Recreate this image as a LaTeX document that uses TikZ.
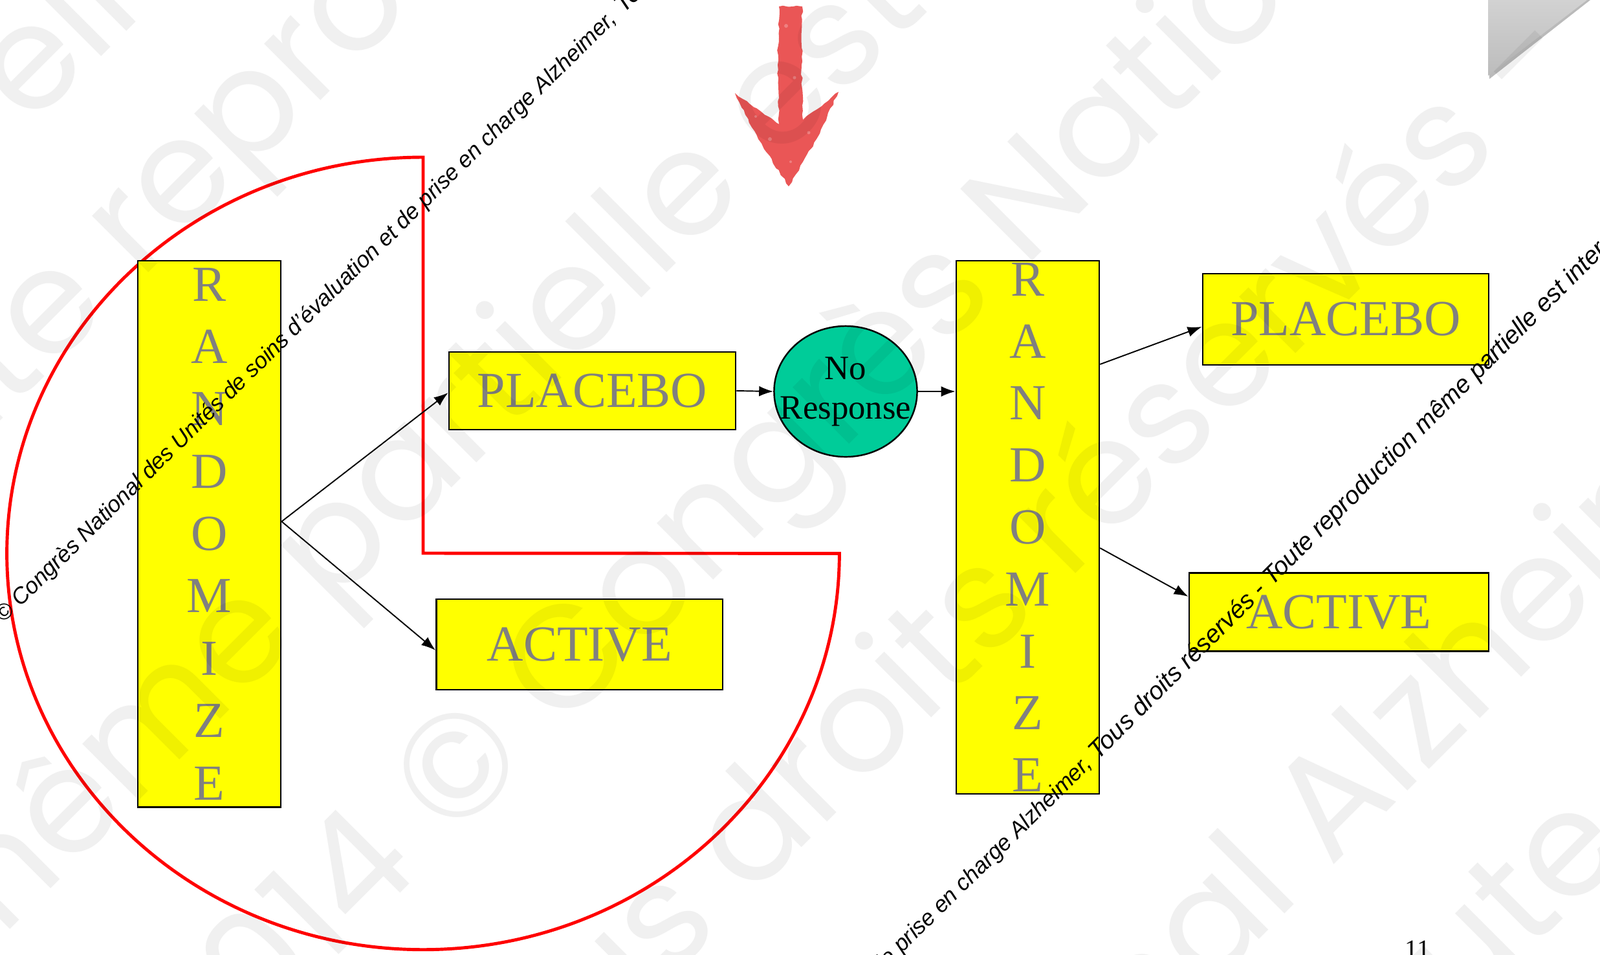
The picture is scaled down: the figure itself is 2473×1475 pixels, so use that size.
\documentclass[tikz,border=0pt]{standalone}
\usepackage{fontspec}
\setmainfont{Liberation Serif}
\newfontfamily\wmsans{Liberation Sans}
\newfontfamily\bigwmfam{Poppins}
\usetikzlibrary{arrows.meta,calc,shapes.geometric,decorations.pathmorphing}

\definecolor{boxyellow}{RGB}{255,255,0}
\definecolor{nrgreen}{RGB}{0,204,153}
\definecolor{chalkred}{RGB}{234,86,86}
\definecolor{shapered}{RGB}{255,0,0}
\definecolor{lettergray}{RGB}{128,128,128}

\newcommand\bigwmfont{\bigwmfam\fontsize{64}{64}\selectfont}
% #1 name, #2 point, #3 text before the point, #4 text from the point on
\newcommand\bigmark[4]{%
  \node[bigwm, anchor=base east] (#1a) at #2 {#3\kern0.27em};
  \node[bigwm, anchor=base west] (#1b) at #2 {#4};}

\begin{document}
\begin{tikzpicture}[x=0.01cm,y=-0.01cm,
  ybox/.style={draw=black, line width=0.7pt, fill=boxyellow, inner sep=0pt, text=lettergray},
  bigtxt/.style={font=\fontsize{22.2}{26}\selectfont},
  randbox/.style={ybox, align=center},
  conn/.style={line width=0.55pt, -{Latex[length=2.2mm,width=1.6mm]}},
  smallwm/.style={font=\wmsans\itshape\fontsize{9.96}{12}\selectfont, rotate=44.5, anchor=base west, inner sep=0pt, text=black},
  smallwmb/.style={font=\wmsans\itshape\fontsize{10.98}{12}\selectfont, rotate=45, anchor=base west, inner sep=0pt, text=black},
  bigwm/.style={font=\bigwmfont, rotate=45, inner sep=0pt, text=black, text opacity=0.06}
]
\useasboundingbox (0,0) rectangle (2473,1475);
\fill[white] (0,0) rectangle (2473,1475);
\clip (0,0) rectangle (2473,1475);

% top-right page corner
\fill[black!45, opacity=0.6] (2300,0) -- (2458,0) -- (2302,122) -- cycle;
\shade[top color={rgb,255:red,210;green,210;blue,210}, bottom color={rgb,255:red,188;green,188;blue,188}]
  (2300,0) -- (2453,0) -- (2300,117) -- cycle;

% chalk arrow
\fill[chalkred, decorate, decoration={random steps, segment length=2pt, amplitude=0.4pt}]
  (1204,10) -- (1240,10) -- (1239,100) -- (1241,185) -- (1296,142) -- (1262,215) -- (1219,288)
  -- (1172,215) -- (1136,144) -- (1204,192) -- (1202,100) -- cycle;
\fill[white, opacity=0.25] (1215,40) circle[radius=3] (1228,120) circle[radius=2.5] (1190,215) circle[radius=3]
  (1250,205) circle[radius=2.5] (1222,250) circle[radius=2] (1168,180) circle[radius=2];

% red outline
\draw[shapered, line width=1.4pt, line join=miter]
  (654,243) arc[start angle=90, end angle=360, x radius=6.43cm, y radius=6.12cm] -- (654,855) -- cycle;

% nodes
\node[randbox, minimum width=2.21cm, minimum height=8.44cm, font=\fontsize{22.2}{27.4}\selectfont]
  (randL) at (323.5,825) {R\\A\\N\\D\\O\\M\\I\\Z\\E};
\node[ybox, bigtxt, minimum width=4.43cm, minimum height=1.2cm] (placL) at (915.5,604) {PLACEBO};
\node[ybox, bigtxt, minimum width=4.425cm, minimum height=1.4cm] (actL) at (895.75,996) {ACTIVE};
\node[ellipse, draw=black, line width=0.7pt, fill=nrgreen, minimum width=2.21cm, minimum height=2.02cm,
  inner sep=0pt, align=center, font=\fontsize{15}{17.4}\selectfont] (nr) at (1307,605)
  {\makebox[0pt]{No}\\\makebox[0pt]{Response}};
\node[randbox, minimum width=2.21cm, minimum height=8.24cm, font=\fontsize{22.2}{27.24}\selectfont]
  (randR) at (1588.5,815) {R\\A\\N\\D\\O\\M\\I\\Z\\E};
\node[ybox, bigtxt, minimum width=4.42cm, minimum height=1.41cm] (placR) at (2080,493.5) {PLACEBO};
\node[ybox, bigtxt, minimum width=4.63cm, minimum height=1.21cm] (actR) at (2069.5,946) {ACTIVE};

% connectors
\draw[conn] ($(randL.east)+(0,-19)$) -- ($(placL.west)+(0,3)$);
\draw[conn] ($(randL.east)+(0,-19)$) -- ($(actL.west)+(0,9)$);
\draw[conn] (placL.east) -- (nr.west);
\draw[conn] (nr.east) -- (nr.east -| randR.west);
\draw[conn] ($(randR.east)+(0,-252)$) -- ($(placR.west)+(0,11.5)$);
\draw[conn] ($(randR.east)+(0,32)$) -- ($(actR.west)+(0,-24)$);

% page number
\node[font=\fontsize{11.4}{12}\selectfont, anchor=base, inner sep=0pt] (pnum) at (2191,1480) {11};

% small diagonal notice (two lines, each in two runs)
\node[smallwm] (wmAa) at (5.3,964.3) {© Congrès National des Unités de soins d’évaluation et de prise en charge Alzheimer,};
\node[smallwmb] (wmAb) at (964,22) {Tous droits réservés - Toute reproduction même partielle est interdite};
\node[smallwm] (wmBa) at (740.6,2115.8) {© Congrès National des Unités de soins d’évaluation et de prise en charge Alzheimer,};
\node[smallwmb] (wmBb) at (1697,1176) {Tous droits réservés - Toute reproduction même partielle est interdite};

% faint large watermark
\bigmark{bgA}{(45,199)}{Toute reproduction même parti}{elle est interdite}
\bigmark{bgB}{(217,434)}{Tous droits réservés - Toute}{reproduction même partielle est interdite}
\bigmark{bgC}{(509,943)}{Toute reproduction même}{partielle est interdite}
\bigmark{bgD}{(697,1302)}{Alzheimer 2014}{© Congrès National Alzheimer 2014 ©}
\bigmark{bgE}{(2364,185)}{Tous droits réservés}{- Toute reproduction même partielle est interdite}
\bigmark{bgF}{(2056,1342)}{Congrès National}{Alzheimer 2014 © Congrès National}
\bigmark{bgG}{(2073,1763)}{}{Toute reproduction même partielle}
\end{tikzpicture}
\end{document}
